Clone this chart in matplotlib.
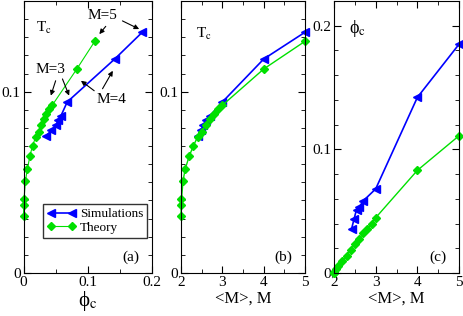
import matplotlib
matplotlib.use("Agg")
import matplotlib.pyplot as plt
from matplotlib.ticker import MultipleLocator, FuncFormatter

plt.rcParams["font.family"] = ["Liberation Serif", "DejaVu Serif"]
plt.rcParams["mathtext.fontset"] = "stix"

# simulations
m_sim = [2.42, 2.48, 2.54, 2.6, 2.7, 3.0, 4.0, 5.0]
phi_sim = [0.0355, 0.0435, 0.0513, 0.053, 0.0583, 0.068, 0.142, 0.185]
tc_sim = [0.0757, 0.0786, 0.0818, 0.0841, 0.0867, 0.0943, 0.118, 0.1328]

# theory
m_th = [2.0, 2.005, 2.01, 2.05, 2.1, 2.2, 2.3, 2.4, 2.5, 2.6, 2.7, 2.8, 2.9, 3.0, 4.0, 5.0]
phi_th = [0.0, 0.0004, 0.0008, 0.003, 0.006, 0.010, 0.014, 0.019, 0.0235, 0.0277,
          0.032, 0.0357, 0.040, 0.0447, 0.083, 0.111]
tc_th = [0.0317, 0.0376, 0.0407, 0.051, 0.0573, 0.0646, 0.0702, 0.075, 0.078, 0.0818,
         0.085, 0.0878, 0.0904, 0.0925, 0.1125, 0.1278]

BLUE = "#0000ff"
GREEN = "#00e000"
PHI = "\u03d5"

fig = plt.figure(figsize=(4.63, 3.16), dpi=100)
bottom, height = 0.136, 0.861
ax_a = fig.add_axes([0.0508, bottom, 0.2775, height])
ax_b = fig.add_axes([0.391, bottom, 0.268, height])
ax_c = fig.add_axes([0.7214, bottom, 0.27, height])

fmt = FuncFormatter(lambda v, p: f"{v:g}")


def style(ax, xmaj, xmin, ymaj, ymin):
    ax.xaxis.set_major_locator(MultipleLocator(xmaj))
    ax.xaxis.set_minor_locator(MultipleLocator(xmin))
    ax.yaxis.set_major_locator(MultipleLocator(ymaj))
    ax.yaxis.set_minor_locator(MultipleLocator(ymin))
    ax.xaxis.set_major_formatter(fmt)
    ax.yaxis.set_major_formatter(fmt)
    ax.tick_params(which="both", direction="in", top=True, right=True, labelsize=11)
    ax.tick_params(which="major", length=5, pad=2)
    ax.tick_params(which="minor", length=3)


def sim_kw():
    return dict(color=BLUE, marker="<", ms=5.5, lw=1.2, clip_on=False)


def th_kw(lw=1.0):
    return dict(color=GREEN, marker="D", ms=4.2, lw=lw, clip_on=False)


# (a) Tc vs phi_c
ax_a.plot(phi_sim, tc_sim, label="Simulations", **sim_kw())
ax_a.plot(phi_th, tc_th, label="Theory", **th_kw(0.8))
ax_a.set_xlim(0, 0.2)
ax_a.set_ylim(0, 0.15)
style(ax_a, 0.1, 0.05, 0.1, 0.01)
ax_a.set_xlabel(PHI + r"$_{\rm c}$", fontsize=15, labelpad=0)
ax_a.text(0.1, 0.9, r"T$_{\rm c}$", transform=ax_a.transAxes, fontsize=11, va="center")
ax_a.text(0.9, 0.035, "(a)", transform=ax_a.transAxes, fontsize=11, ha="right", va="bottom")
leg = ax_a.legend(loc="lower left", bbox_to_anchor=(0.15, 0.13), numpoints=2,
                  fontsize=9.5, frameon=True, fancybox=False, edgecolor="black",
                  handlelength=2.2, handletextpad=0.3, borderpad=0.3, labelspacing=0.1,
                  borderaxespad=0)
leg.get_frame().set_linewidth(1.0)

arrow = dict(arrowstyle="-|>", color="black", lw=0.8, mutation_scale=7, shrinkA=0, shrinkB=0)
ax_a.text(0.123, 0.1418, "M=5", fontsize=11, ha="center", va="center")
ax_a.annotate("", xy=(0.118, 0.1317), xytext=(0.128, 0.136), arrowprops=arrow)
ax_a.annotate("", xy=(0.180, 0.1345), xytext=(0.154, 0.139), arrowprops=arrow)
ax_a.text(0.0414, 0.112, "M=3", fontsize=11, ha="center", va="center")
ax_a.annotate("", xy=(0.0425, 0.0978), xytext=(0.050, 0.106), arrowprops=arrow)
ax_a.annotate("", xy=(0.071, 0.0978), xytext=(0.0606, 0.107), arrowprops=arrow)
ax_a.text(0.137, 0.0956, "M=4", fontsize=11, ha="center", va="center")
ax_a.annotate("", xy=(0.0894, 0.106), xytext=(0.110, 0.1005), arrowprops=arrow)
ax_a.annotate("", xy=(0.139, 0.1115), xytext=(0.123, 0.1016), arrowprops=arrow)

# (b) Tc vs M
ax_b.plot(m_sim, tc_sim, **sim_kw())
ax_b.plot(m_th, tc_th, **th_kw())
ax_b.set_xlim(2, 5)
ax_b.set_ylim(0, 0.15)
style(ax_b, 1, 0.5, 0.1, 0.01)
ax_b.set_xlabel("<M>, M", fontsize=12, labelpad=1)
ax_b.text(0.12, 0.88, r"T$_{\rm c}$", transform=ax_b.transAxes, fontsize=11, va="center")
ax_b.text(0.9, 0.035, "(b)", transform=ax_b.transAxes, fontsize=11, ha="right", va="bottom")

# (c) phi_c vs M
ax_c.plot(m_sim, phi_sim, **sim_kw())
ax_c.plot(m_th, phi_th, **th_kw())
ax_c.set_xlim(2, 5)
ax_c.set_ylim(0, 0.22)
style(ax_c, 1, 0.5, 0.1, 0.02)
ax_c.set_xlabel("<M>, M", fontsize=12, labelpad=1)
ax_c.text(0.12, 0.9, PHI + r"$_{\rm c}$", transform=ax_c.transAxes, fontsize=13, va="center")
ax_c.text(0.9, 0.035, "(c)", transform=ax_c.transAxes, fontsize=11, ha="right", va="bottom")

fig.savefig("out.png", dpi=100)
